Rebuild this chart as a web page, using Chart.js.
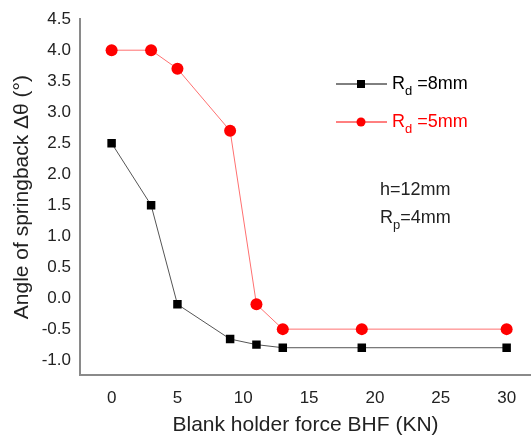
<!DOCTYPE html>
<html>
<head>
<meta charset="utf-8">
<script src="https://cdn.jsdelivr.net/npm/chart.js@4"></script>
<style>
  html, body { margin: 0; padding: 0; background: #fff; }
  #wrap { width: 531px; height: 439px; }
</style>
</head>
<body>
<div id="wrap"><canvas id="chart" width="531" height="439"></canvas></div>
<script>
// Blank holder force (KN)
const bhf = [0, 3, 5, 9, 11, 13, 19, 30];
// Springback angle for each die radius
const rd8 = [2.5, 1.5, -0.1, -0.66, -0.75, -0.8, -0.8, -0.8];
const rd5 = [4.0, 4.0, 3.7, 2.7, -0.1, -0.5, -0.5, -0.5];

const xTicks = [0, 5, 10, 15, 20, 25, 30];
const yTicks = [-1.0, -0.5, 0.0, 0.5, 1.0, 1.5, 2.0, 2.5, 3.0, 3.5, 4.0, 4.5];

const FONT = 'Arial, "Liberation Sans", sans-serif';
const AXIS_COLOR = '#8a8a8a';

const toPoints = (xs, ys) => xs.map((x, i) => ({ x, y: ys[i] }));

// draws legend + annotations (subscripts need manual drawing)
const notesPlugin = {
    id: 'notes',
    afterDraw(chart) {
        const ctx = chart.ctx;
        const drawSub = (x, y, main, sub, rest, color) => {
            ctx.fillStyle = color;
            ctx.textBaseline = 'middle';
            ctx.textAlign = 'left';
            ctx.font = '18px ' + FONT;
            ctx.fillText(main, x, y);
            let w = ctx.measureText(main).width;
            ctx.font = '13px ' + FONT;
            ctx.fillText(sub, x + w, y + 7);
            w += ctx.measureText(sub).width;
            ctx.font = '18px ' + FONT;
            ctx.fillText(rest, x + w, y);
        };

        // legend entries
        const entries = [
            { y: 84, color: '#000', line: '#000', label: 'd', rest: ' =8mm', shape: 'rect' },
            { y: 122, color: '#ff0000', line: '#ff0000', label: 'd', rest: ' =5mm', shape: 'circle' }
        ];
        entries.forEach(e => {
            ctx.save();
            ctx.strokeStyle = e.line;
            ctx.lineWidth = 1;
            ctx.beginPath();
            ctx.moveTo(336, e.y);
            ctx.lineTo(387, e.y);
            ctx.stroke();
            ctx.fillStyle = e.color;
            if (e.shape === 'rect') {
                ctx.fillRect(357, e.y - 4, 8, 8);
            } else {
                ctx.beginPath();
                ctx.arc(361, e.y, 4.5, 0, Math.PI * 2);
                ctx.fill();
            }
            drawSub(392, e.y, 'R', e.label, e.rest, e.color);
            ctx.restore();
        });

        ctx.save();
        ctx.fillStyle = '#222';
        ctx.font = '18px ' + FONT;
        ctx.textBaseline = 'middle';
        ctx.textAlign = 'left';
        ctx.fillText('h=12mm', 380, 190);
        ctx.restore();
        ctx.save();
        drawSub(380, 218, 'R', 'p', '=4mm', '#222');
        ctx.restore();
    }
};

new Chart(document.getElementById('chart'), {
    type: 'scatter',
    data: {
        datasets: [
            {
                label: 'Rd=8mm',
                data: toPoints(bhf, rd8),
                showLine: true,
                borderColor: '#555',
                borderWidth: 1,
                pointStyle: 'rect',
                pointRadius: 6,
                pointBackgroundColor: '#000',
                pointBorderColor: '#000',
                pointBorderWidth: 0
            },
            {
                label: 'Rd=5mm',
                data: toPoints(bhf, rd5),
                showLine: true,
                borderColor: '#ff7070',
                borderWidth: 1,
                pointStyle: 'circle',
                pointRadius: 6,
                pointBackgroundColor: '#ff0000',
                pointBorderColor: '#ff0000',
                pointBorderWidth: 0
            }
        ]
    },
    options: {
        responsive: false,
        animation: false,
        layout: { autoPadding: false, padding: { top: 18, right: 0, left: 0, bottom: 0 } },
        plugins: {
            legend: { display: false },
            tooltip: { enabled: false }
        },
        scales: {
            x: {
                type: 'linear',
                min: -2.4,
                max: 31.85,
                afterBuildTicks: s => { s.ticks = xTicks.map(v => ({ value: v })); },
                afterFit: s => { s.height = 64; },
                grid: { display: false, drawTicks: false },
                border: { display: true, color: AXIS_COLOR, width: 2 },
                ticks: { color: '#222', font: { size: 17, family: FONT }, padding: 13 },
                title: {
                    display: true,
                    text: 'Blank holder force BHF (KN)',
                    color: '#222',
                    font: { size: 21, family: FONT },
                    padding: { top: 0, bottom: 1 }
                }
            },
            y: {
                type: 'linear',
                min: -1.24,
                max: 4.5,
                afterBuildTicks: s => { s.ticks = yTicks.map(v => ({ value: v })); },
                afterFit: s => { s.width = 80; },
                grid: { display: false, drawTicks: false },
                border: { display: true, color: AXIS_COLOR, width: 2 },
                ticks: {
                    color: '#222',
                    font: { size: 17, family: FONT },
                    padding: 9,
                    callback: v => Number(v).toFixed(1)
                },
                title: {
                    display: true,
                    text: 'Angle of springback Δθ (°)',
                    color: '#222',
                    font: { size: 21, family: FONT },
                    padding: { top: 10, bottom: 0 }
                }
            }
        }
    },
    plugins: [notesPlugin]
});
</script>
</body>
</html>
